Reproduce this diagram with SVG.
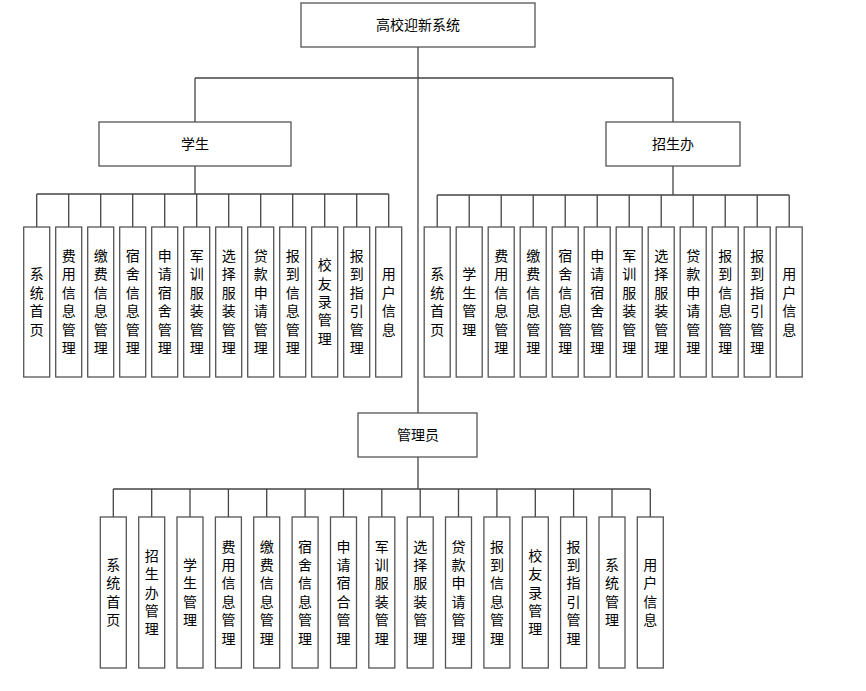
<svg xmlns="http://www.w3.org/2000/svg" width="866" height="691" viewBox="0 0 866 691">
<style>
.box{fill:#fff;stroke:#555;stroke-width:1.3}
.t{font-family:"Liberation Sans","Noto Sans CJK SC",sans-serif;font-size:14px;fill:#000;text-anchor:middle;dominant-baseline:central}
.c{fill:none;stroke:#444;stroke-width:1.3}
</style>
<rect width="866" height="691" fill="#fff"/>
<g id="connectors" class="c">
<path d="M418 47V413M195 78H673M195 78V122M673 78V122"/>
<path d="M195 166V194M36.7 194H388.7M36.7 194V227M68.7 194V227M100.7 194V227M132.7 194V227M164.7 194V227M196.7 194V227M228.7 194V227M260.7 194V227M292.7 194V227M324.7 194V227M356.7 194V227M388.7 194V227"/>
<path d="M673 166V195M437.2 195H789.2M437.2 195V227M469.2 195V227M501.2 195V227M533.2 195V227M565.2 195V227M597.2 195V227M629.2 195V227M661.2 195V227M693.2 195V227M725.2 195V227M757.2 195V227M789.2 195V227"/>
<path d="M418 457V489M113.3 489H650.3M113.3 489V517M151.7 489V517M190 489V517M228.4 489V517M266.7 489V517M305.1 489V517M343.5 489V517M381.8 489V517M420.2 489V517M458.5 489V517M496.9 489V517M535.3 489V517M573.6 489V517M612 489V517M650.3 489V517"/>
</g>
<g id="root"><rect class="box" x="301" y="3" width="234" height="44"/><text class="t" x="418" y="25">高校迎新系统</text></g>
<g id="student"><rect class="box" x="99" y="122" width="192" height="44"/><text class="t" x="195" y="144">学生</text></g>
<g id="office"><rect class="box" x="606" y="122" width="134" height="44"/><text class="t" x="673" y="144">招生办</text></g>
<g id="admin"><rect class="box" x="358" y="413" width="119" height="44"/><text class="t" x="418" y="435">管理员</text></g>

<g id="s1"><rect class="box" x="23.7" y="227" width="26" height="150"/><text class="t"><tspan x="36.7" y="274.4">系</tspan><tspan x="36.7" y="292.8">统</tspan><tspan x="36.7" y="311.2">首</tspan><tspan x="36.7" y="329.6">页</tspan></text></g>
<g id="s2"><rect class="box" x="55.7" y="227" width="26" height="150"/><text class="t"><tspan x="68.7" y="256">费</tspan><tspan x="68.7" y="274.4">用</tspan><tspan x="68.7" y="292.8">信</tspan><tspan x="68.7" y="311.2">息</tspan><tspan x="68.7" y="329.6">管</tspan><tspan x="68.7" y="348">理</tspan></text></g>
<g id="s3"><rect class="box" x="87.7" y="227" width="26" height="150"/><text class="t"><tspan x="100.7" y="256">缴</tspan><tspan x="100.7" y="274.4">费</tspan><tspan x="100.7" y="292.8">信</tspan><tspan x="100.7" y="311.2">息</tspan><tspan x="100.7" y="329.6">管</tspan><tspan x="100.7" y="348">理</tspan></text></g>
<g id="s4"><rect class="box" x="119.7" y="227" width="26" height="150"/><text class="t"><tspan x="132.7" y="256">宿</tspan><tspan x="132.7" y="274.4">舍</tspan><tspan x="132.7" y="292.8">信</tspan><tspan x="132.7" y="311.2">息</tspan><tspan x="132.7" y="329.6">管</tspan><tspan x="132.7" y="348">理</tspan></text></g>
<g id="s5"><rect class="box" x="151.7" y="227" width="26" height="150"/><text class="t"><tspan x="164.7" y="256">申</tspan><tspan x="164.7" y="274.4">请</tspan><tspan x="164.7" y="292.8">宿</tspan><tspan x="164.7" y="311.2">舍</tspan><tspan x="164.7" y="329.6">管</tspan><tspan x="164.7" y="348">理</tspan></text></g>
<g id="s6"><rect class="box" x="183.7" y="227" width="26" height="150"/><text class="t"><tspan x="196.7" y="256">军</tspan><tspan x="196.7" y="274.4">训</tspan><tspan x="196.7" y="292.8">服</tspan><tspan x="196.7" y="311.2">装</tspan><tspan x="196.7" y="329.6">管</tspan><tspan x="196.7" y="348">理</tspan></text></g>
<g id="s7"><rect class="box" x="215.7" y="227" width="26" height="150"/><text class="t"><tspan x="228.7" y="256">选</tspan><tspan x="228.7" y="274.4">择</tspan><tspan x="228.7" y="292.8">服</tspan><tspan x="228.7" y="311.2">装</tspan><tspan x="228.7" y="329.6">管</tspan><tspan x="228.7" y="348">理</tspan></text></g>
<g id="s8"><rect class="box" x="247.7" y="227" width="26" height="150"/><text class="t"><tspan x="260.7" y="256">贷</tspan><tspan x="260.7" y="274.4">款</tspan><tspan x="260.7" y="292.8">申</tspan><tspan x="260.7" y="311.2">请</tspan><tspan x="260.7" y="329.6">管</tspan><tspan x="260.7" y="348">理</tspan></text></g>
<g id="s9"><rect class="box" x="279.7" y="227" width="26" height="150"/><text class="t"><tspan x="292.7" y="256">报</tspan><tspan x="292.7" y="274.4">到</tspan><tspan x="292.7" y="292.8">信</tspan><tspan x="292.7" y="311.2">息</tspan><tspan x="292.7" y="329.6">管</tspan><tspan x="292.7" y="348">理</tspan></text></g>
<g id="s10"><rect class="box" x="311.7" y="227" width="26" height="150"/><text class="t"><tspan x="324.7" y="265.2">校</tspan><tspan x="324.7" y="283.6">友</tspan><tspan x="324.7" y="302">录</tspan><tspan x="324.7" y="320.4">管</tspan><tspan x="324.7" y="338.8">理</tspan></text></g>
<g id="s11"><rect class="box" x="343.7" y="227" width="26" height="150"/><text class="t"><tspan x="356.7" y="256">报</tspan><tspan x="356.7" y="274.4">到</tspan><tspan x="356.7" y="292.8">指</tspan><tspan x="356.7" y="311.2">引</tspan><tspan x="356.7" y="329.6">管</tspan><tspan x="356.7" y="348">理</tspan></text></g>
<g id="s12"><rect class="box" x="375.7" y="227" width="26" height="150"/><text class="t"><tspan x="388.7" y="274.4">用</tspan><tspan x="388.7" y="292.8">户</tspan><tspan x="388.7" y="311.2">信</tspan><tspan x="388.7" y="329.6">息</tspan></text></g>

<g id="o1"><rect class="box" x="424.2" y="227" width="26" height="150"/><text class="t"><tspan x="437.2" y="274.4">系</tspan><tspan x="437.2" y="292.8">统</tspan><tspan x="437.2" y="311.2">首</tspan><tspan x="437.2" y="329.6">页</tspan></text></g>
<g id="o2"><rect class="box" x="456.2" y="227" width="26" height="150"/><text class="t"><tspan x="469.2" y="274.4">学</tspan><tspan x="469.2" y="292.8">生</tspan><tspan x="469.2" y="311.2">管</tspan><tspan x="469.2" y="329.6">理</tspan></text></g>
<g id="o3"><rect class="box" x="488.2" y="227" width="26" height="150"/><text class="t"><tspan x="501.2" y="256">费</tspan><tspan x="501.2" y="274.4">用</tspan><tspan x="501.2" y="292.8">信</tspan><tspan x="501.2" y="311.2">息</tspan><tspan x="501.2" y="329.6">管</tspan><tspan x="501.2" y="348">理</tspan></text></g>
<g id="o4"><rect class="box" x="520.2" y="227" width="26" height="150"/><text class="t"><tspan x="533.2" y="256">缴</tspan><tspan x="533.2" y="274.4">费</tspan><tspan x="533.2" y="292.8">信</tspan><tspan x="533.2" y="311.2">息</tspan><tspan x="533.2" y="329.6">管</tspan><tspan x="533.2" y="348">理</tspan></text></g>
<g id="o5"><rect class="box" x="552.2" y="227" width="26" height="150"/><text class="t"><tspan x="565.2" y="256">宿</tspan><tspan x="565.2" y="274.4">舍</tspan><tspan x="565.2" y="292.8">信</tspan><tspan x="565.2" y="311.2">息</tspan><tspan x="565.2" y="329.6">管</tspan><tspan x="565.2" y="348">理</tspan></text></g>
<g id="o6"><rect class="box" x="584.2" y="227" width="26" height="150"/><text class="t"><tspan x="597.2" y="256">申</tspan><tspan x="597.2" y="274.4">请</tspan><tspan x="597.2" y="292.8">宿</tspan><tspan x="597.2" y="311.2">舍</tspan><tspan x="597.2" y="329.6">管</tspan><tspan x="597.2" y="348">理</tspan></text></g>
<g id="o7"><rect class="box" x="616.2" y="227" width="26" height="150"/><text class="t"><tspan x="629.2" y="256">军</tspan><tspan x="629.2" y="274.4">训</tspan><tspan x="629.2" y="292.8">服</tspan><tspan x="629.2" y="311.2">装</tspan><tspan x="629.2" y="329.6">管</tspan><tspan x="629.2" y="348">理</tspan></text></g>
<g id="o8"><rect class="box" x="648.2" y="227" width="26" height="150"/><text class="t"><tspan x="661.2" y="256">选</tspan><tspan x="661.2" y="274.4">择</tspan><tspan x="661.2" y="292.8">服</tspan><tspan x="661.2" y="311.2">装</tspan><tspan x="661.2" y="329.6">管</tspan><tspan x="661.2" y="348">理</tspan></text></g>
<g id="o9"><rect class="box" x="680.2" y="227" width="26" height="150"/><text class="t"><tspan x="693.2" y="256">贷</tspan><tspan x="693.2" y="274.4">款</tspan><tspan x="693.2" y="292.8">申</tspan><tspan x="693.2" y="311.2">请</tspan><tspan x="693.2" y="329.6">管</tspan><tspan x="693.2" y="348">理</tspan></text></g>
<g id="o10"><rect class="box" x="712.2" y="227" width="26" height="150"/><text class="t"><tspan x="725.2" y="256">报</tspan><tspan x="725.2" y="274.4">到</tspan><tspan x="725.2" y="292.8">信</tspan><tspan x="725.2" y="311.2">息</tspan><tspan x="725.2" y="329.6">管</tspan><tspan x="725.2" y="348">理</tspan></text></g>
<g id="o11"><rect class="box" x="744.2" y="227" width="26" height="150"/><text class="t"><tspan x="757.2" y="256">报</tspan><tspan x="757.2" y="274.4">到</tspan><tspan x="757.2" y="292.8">指</tspan><tspan x="757.2" y="311.2">引</tspan><tspan x="757.2" y="329.6">管</tspan><tspan x="757.2" y="348">理</tspan></text></g>
<g id="o12"><rect class="box" x="776.2" y="227" width="26" height="150"/><text class="t"><tspan x="789.2" y="274.4">用</tspan><tspan x="789.2" y="292.8">户</tspan><tspan x="789.2" y="311.2">信</tspan><tspan x="789.2" y="329.6">息</tspan></text></g>

<g id="a1"><rect class="box" x="100.3" y="517" width="26" height="151"/><text class="t"><tspan x="113.3" y="564.9">系</tspan><tspan x="113.3" y="583.3">统</tspan><tspan x="113.3" y="601.7">首</tspan><tspan x="113.3" y="620.1">页</tspan></text></g>
<g id="a2"><rect class="box" x="138.7" y="517" width="26" height="151"/><text class="t"><tspan x="151.7" y="555.7">招</tspan><tspan x="151.7" y="574.1">生</tspan><tspan x="151.7" y="592.5">办</tspan><tspan x="151.7" y="610.9">管</tspan><tspan x="151.7" y="629.3">理</tspan></text></g>
<g id="a3"><rect class="box" x="177" y="517" width="26" height="151"/><text class="t"><tspan x="190" y="564.9">学</tspan><tspan x="190" y="583.3">生</tspan><tspan x="190" y="601.7">管</tspan><tspan x="190" y="620.1">理</tspan></text></g>
<g id="a4"><rect class="box" x="215.4" y="517" width="26" height="151"/><text class="t"><tspan x="228.4" y="546.5">费</tspan><tspan x="228.4" y="564.9">用</tspan><tspan x="228.4" y="583.3">信</tspan><tspan x="228.4" y="601.7">息</tspan><tspan x="228.4" y="620.1">管</tspan><tspan x="228.4" y="638.5">理</tspan></text></g>
<g id="a5"><rect class="box" x="253.7" y="517" width="26" height="151"/><text class="t"><tspan x="266.7" y="546.5">缴</tspan><tspan x="266.7" y="564.9">费</tspan><tspan x="266.7" y="583.3">信</tspan><tspan x="266.7" y="601.7">息</tspan><tspan x="266.7" y="620.1">管</tspan><tspan x="266.7" y="638.5">理</tspan></text></g>
<g id="a6"><rect class="box" x="292.1" y="517" width="26" height="151"/><text class="t"><tspan x="305.1" y="546.5">宿</tspan><tspan x="305.1" y="564.9">舍</tspan><tspan x="305.1" y="583.3">信</tspan><tspan x="305.1" y="601.7">息</tspan><tspan x="305.1" y="620.1">管</tspan><tspan x="305.1" y="638.5">理</tspan></text></g>
<g id="a7"><rect class="box" x="330.5" y="517" width="26" height="151"/><text class="t"><tspan x="343.5" y="546.5">申</tspan><tspan x="343.5" y="564.9">请</tspan><tspan x="343.5" y="583.3">宿</tspan><tspan x="343.5" y="601.7">合</tspan><tspan x="343.5" y="620.1">管</tspan><tspan x="343.5" y="638.5">理</tspan></text></g>
<g id="a8"><rect class="box" x="368.8" y="517" width="26" height="151"/><text class="t"><tspan x="381.8" y="546.5">军</tspan><tspan x="381.8" y="564.9">训</tspan><tspan x="381.8" y="583.3">服</tspan><tspan x="381.8" y="601.7">装</tspan><tspan x="381.8" y="620.1">管</tspan><tspan x="381.8" y="638.5">理</tspan></text></g>
<g id="a9"><rect class="box" x="407.2" y="517" width="26" height="151"/><text class="t"><tspan x="420.2" y="546.5">选</tspan><tspan x="420.2" y="564.9">择</tspan><tspan x="420.2" y="583.3">服</tspan><tspan x="420.2" y="601.7">装</tspan><tspan x="420.2" y="620.1">管</tspan><tspan x="420.2" y="638.5">理</tspan></text></g>
<g id="a10"><rect class="box" x="445.5" y="517" width="26" height="151"/><text class="t"><tspan x="458.5" y="546.5">贷</tspan><tspan x="458.5" y="564.9">款</tspan><tspan x="458.5" y="583.3">申</tspan><tspan x="458.5" y="601.7">请</tspan><tspan x="458.5" y="620.1">管</tspan><tspan x="458.5" y="638.5">理</tspan></text></g>
<g id="a11"><rect class="box" x="483.9" y="517" width="26" height="151"/><text class="t"><tspan x="496.9" y="546.5">报</tspan><tspan x="496.9" y="564.9">到</tspan><tspan x="496.9" y="583.3">信</tspan><tspan x="496.9" y="601.7">息</tspan><tspan x="496.9" y="620.1">管</tspan><tspan x="496.9" y="638.5">理</tspan></text></g>
<g id="a12"><rect class="box" x="522.3" y="517" width="26" height="151"/><text class="t"><tspan x="535.3" y="555.7">校</tspan><tspan x="535.3" y="574.1">友</tspan><tspan x="535.3" y="592.5">录</tspan><tspan x="535.3" y="610.9">管</tspan><tspan x="535.3" y="629.3">理</tspan></text></g>
<g id="a13"><rect class="box" x="560.6" y="517" width="26" height="151"/><text class="t"><tspan x="573.6" y="546.5">报</tspan><tspan x="573.6" y="564.9">到</tspan><tspan x="573.6" y="583.3">指</tspan><tspan x="573.6" y="601.7">引</tspan><tspan x="573.6" y="620.1">管</tspan><tspan x="573.6" y="638.5">理</tspan></text></g>
<g id="a14"><rect class="box" x="599" y="517" width="26" height="151"/><text class="t"><tspan x="612" y="564.9">系</tspan><tspan x="612" y="583.3">统</tspan><tspan x="612" y="601.7">管</tspan><tspan x="612" y="620.1">理</tspan></text></g>
<g id="a15"><rect class="box" x="637.3" y="517" width="26" height="151"/><text class="t"><tspan x="650.3" y="564.9">用</tspan><tspan x="650.3" y="583.3">户</tspan><tspan x="650.3" y="601.7">信</tspan><tspan x="650.3" y="620.1">息</tspan></text></g>
</svg>
